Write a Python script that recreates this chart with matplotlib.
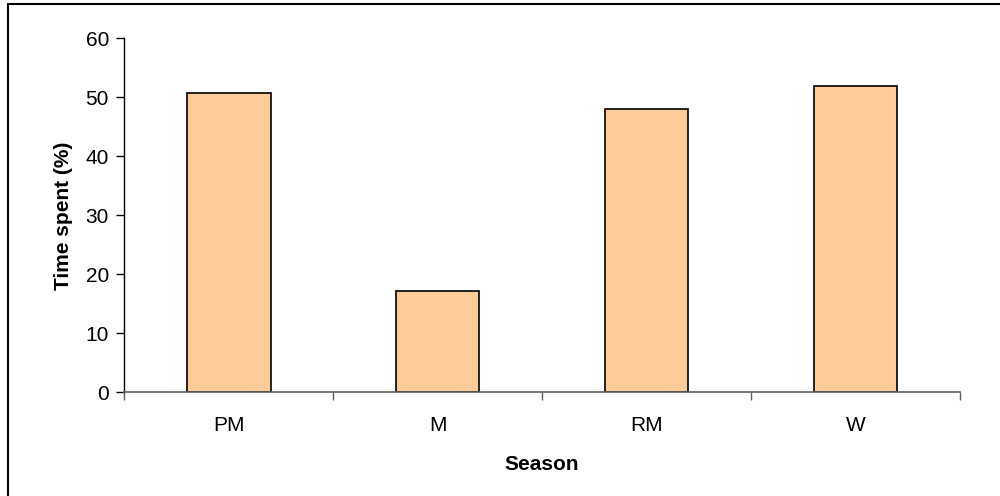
import matplotlib.pyplot as plt
from matplotlib.patches import Rectangle

seasons = ['PM', 'M', 'RM', 'W']
time_spent = [50.8, 17.2, 48.0, 52.0]
y_ticks = [0, 10, 20, 30, 40, 50, 60]

plt.rcParams['font.family'] = ['Liberation Sans', 'DejaVu Sans']

fig = plt.figure(figsize=(10, 4.96), dpi=100)
ax = fig.add_axes([0.1243, 0.2087, 0.8357, 0.7137])

x = list(range(len(seasons)))
ax.bar(x, time_spent, width=0.40, color='#FFCC99', edgecolor='black', linewidth=1.2)

ax.set_xlim(-0.5, len(seasons) - 0.5)
ax.set_ylim(0, 60)
ax.set_yticks(y_ticks)
ax.tick_params(axis='y', direction='out', length=6, width=1, labelsize=15, pad=5)

# category boundaries as major ticks, names on minor ticks
ax.set_xticks([i - 0.5 for i in range(len(seasons) + 1)])
ax.set_xticklabels([])
ax.set_xticks(x, minor=True)
ax.set_xticklabels(seasons, minor=True)
ax.tick_params(axis='x', which='major', direction='out', length=6, width=1, color='#606060')
ax.tick_params(axis='x', which='minor', length=0, labelsize=15, pad=17)

for s in ['top', 'right']:
    ax.spines[s].set_visible(False)
ax.spines['left'].set_linewidth(1)
ax.spines['bottom'].set_color('#606060')
ax.spines['bottom'].set_linewidth(1.2)

ax.set_xlabel('Season', fontsize=15, fontweight='bold', labelpad=14)
ax.set_ylabel('Time spent (%)', fontsize=15, fontweight='bold', labelpad=9)

# outer frame (only left/top edges fall inside the image)
fig.patches.append(Rectangle((0.008, -0.05), 1.1, 1.042, transform=fig.transFigure,
                             fill=False, edgecolor='black', linewidth=1.5))

fig.savefig('out.png', dpi=100)
